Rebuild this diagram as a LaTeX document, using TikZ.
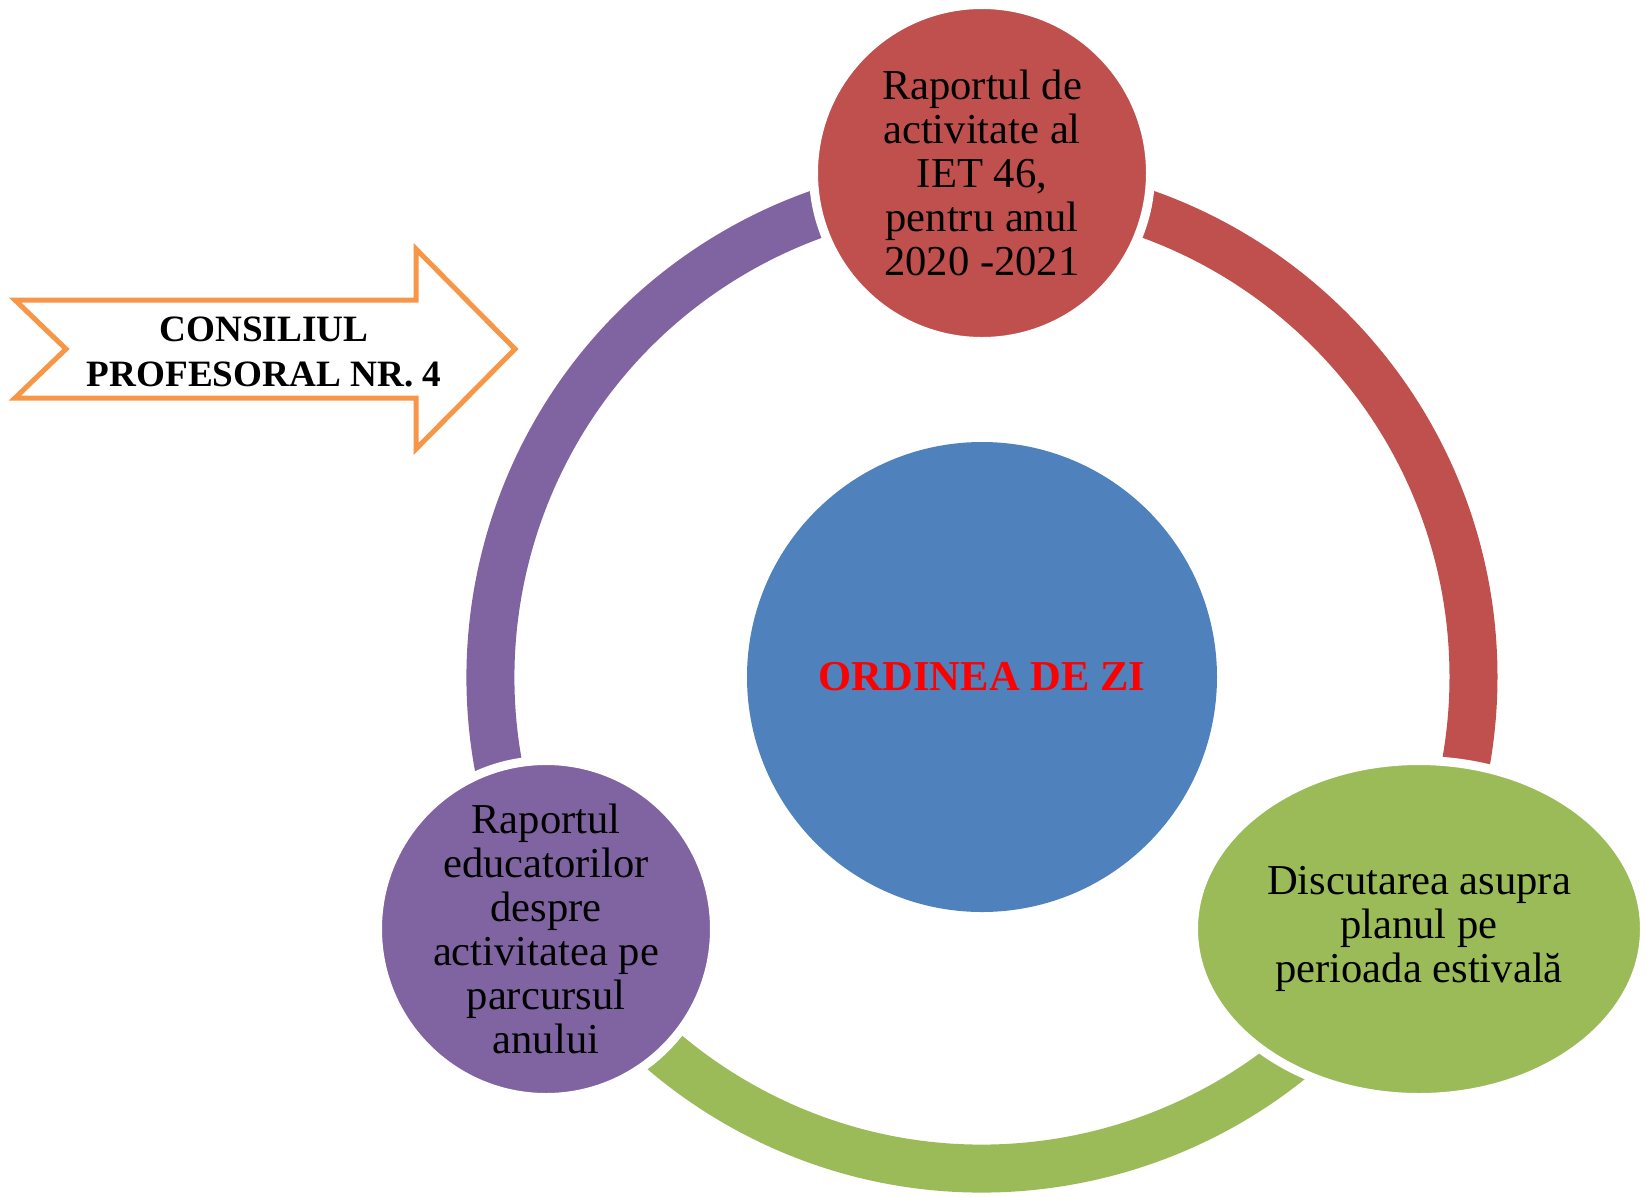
\documentclass[tikz,border=0pt]{standalone}
\usepackage{fontspec}
\setmainfont{Liberation Serif}
\usetikzlibrary{shapes.geometric,calc}
\definecolor{cred}{HTML}{C0504D}
\definecolor{cblue}{HTML}{4F81BD}
\definecolor{cgreen}{HTML}{9BBB59}
\definecolor{cpurple}{HTML}{8064A2}
\definecolor{corange}{HTML}{F79646}
\definecolor{ctitle}{HTML}{FF0000}
\begin{document}
\begin{tikzpicture}[x=0.5pt,y=-0.5pt,
  ring/.style={line width=24pt, line cap=butt},
  disc/.style={circle, draw=white, line width=4.5pt, minimum size=168.5pt, inner sep=0pt},
  oval/.style={ellipse, draw=white, line width=4.5pt, minimum width=225.5pt, minimum height=168.5pt, inner sep=0pt},
  txt/.style={align=center, font=\fontsize{21.3}{22}\selectfont, text=black, inner sep=0pt},
  btxt/.style={align=center, font=\fontsize{18.6}{22.5}\selectfont\bfseries, text=black, inner sep=0pt}]
\useasboundingbox (0,0) rectangle (1646,1196);
\coordinate (C) at (982,677);
% ring arcs
\draw[ring, cred] ($(C)+(-90:491.5)$) arc[start angle=-90, end angle=30, radius=491.5];
\draw[ring, cgreen] ($(C)+(30:491.5)$) arc[start angle=30, end angle=150, radius=491.5];
\draw[ring, cpurple] ($(C)+(150:491.5)$) arc[start angle=150, end angle=270, radius=491.5];
% nodes
\node[disc, fill=cred] (top) at (982,173) {};
\node[disc, fill=cpurple] (left) at (546,929) {};
\node[oval, fill=cgreen] (right) at (1419,929) {};
\node[circle, fill=cblue, minimum size=235pt, inner sep=0pt] (mid) at (C) {};
% texts
\node[txt] (toptxt) at (top.center) {Raportul de\\activitate al\\IET 46,\\pentru anul\\2020 -2021};
\node[txt] (lefttxt) at (left.center) {Raportul\\educatorilor\\despre\\activitatea pe\\parcursul\\anului};
\node[txt] (righttxt) at (right.center) {Discutarea asupra\\planul pe\\perioada estivală};
\node[align=center, font=\fontsize{21.3}{22}\selectfont\bfseries, text=ctitle, inner sep=0pt] (midtxt) at (mid.center) {ORDINEA DE ZI};
% notched arrow
\draw[corange, line width=2.5pt, line join=miter, fill=white]
  (15,300) -- (416,300) -- (416,249) -- (515,349) -- (416,449) -- (416,398) -- (15,398) -- (66,349) -- cycle;
\node[btxt] (arrtxt) at (264,352) {CONSILIUL\\PROFESORAL NR. 4};
\end{tikzpicture}
\end{document}
